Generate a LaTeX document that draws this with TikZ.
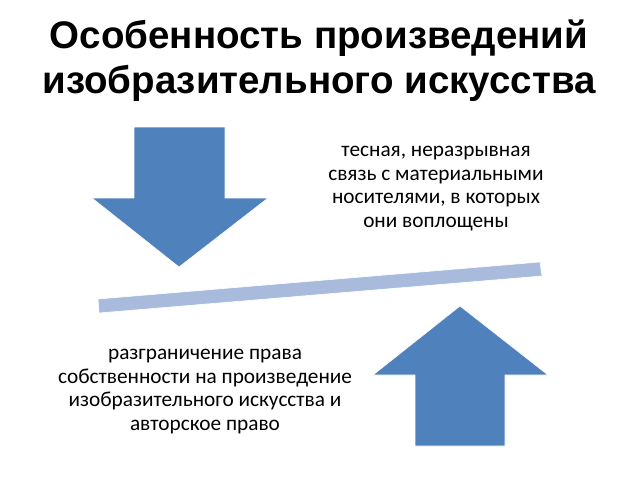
\documentclass[tikz,border=0pt]{standalone}
\usepackage{fontspec}
\setmainfont{Carlito}
\newfontfamily\titlefont{Liberation Sans}
\definecolor{arrowblue}{HTML}{4F81BD}
\definecolor{barblue}{HTML}{A9BBDD}
\begin{document}
\begin{tikzpicture}[x=1pt,y=-1pt,
  bigarrow/.style={fill=arrowblue,draw=white,line width=0.6pt},
  beam/.style={fill=barblue,draw=white,line width=0.6pt},
  titletext/.style={font=\titlefont\bfseries\fontsize{38.5}{45}\selectfont,align=center,inner sep=0pt},
  bodytext/.style={font=\fontsize{21.3}{23.6}\selectfont,align=center,inner sep=0pt}]
\useasboundingbox (0,0) rectangle (640,480);
\node[titletext,anchor=north] (title) at (319,20) {Особенность произведений\\изобразительного искусства};
% down arrow
\path[bigarrow] (134,127) -- (225,127) -- (225,198) -- (268,198) -- (179,267) -- (92,198) -- (134,198) -- cycle;
% up arrow
\path[bigarrow] (415,446) -- (505,446) -- (505,375) -- (548,375) -- (460,306) -- (373,375) -- (415,375) -- cycle;
% beam
\path[beam] (98,299) -- (540,262) -- (542,276) -- (99,313) -- cycle;
\node[bodytext,anchor=north] (right) at (436,146) {тесная, неразрывная\\связь с материальными\\носителями, в которых\\они воплощены};
\node[bodytext,anchor=north] (left) at (205,349) {разграничение права\\собственности на произведение\\изобразительного искусства и\\авторское право};
\end{tikzpicture}
\end{document}
